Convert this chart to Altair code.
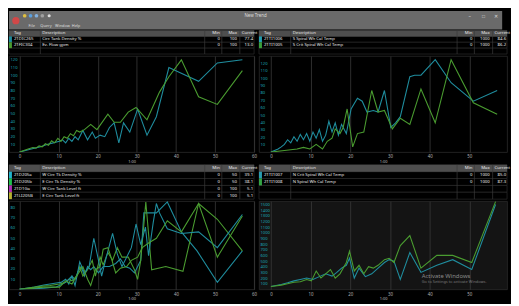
import altair as alt
import pandas as pd

FONT = "Noto Sans"

# ---------------- data: top-left panel ----------------
tl_tags = ["21DIC265", "21FIC304"]
tl_desc = ["Circ Tank Density %", "Ev. Flow gpm"]
tl_min = [0, 0]
tl_max = [100, 100]
tl_cur = ["77.4", "13.0"]
tl_teal_t = [0, 3.0, 5.4, 7.0, 8.6, 10.2, 11.0, 11.8, 12.6, 13.4, 14.2, 15.0, 16.2, 17.4, 18.6, 19.4, 20.6, 21.8,
             23.0, 24.2, 25.4, 26.6, 28.2, 30.2, 32.6, 35.0, 38.2, 45.8, 50.6, 57]
tl_teal_v = [0, 4, 6.8, 10, 12, 14, 16, 12, 18, 14, 20, 16, 28, 16, 26, 18, 22, 20, 32, 38, 12, 38, 26, 56, 22, 46,
             110, 92, 116, 120]
tl_green_t = [0, 2.2, 3.4, 4.2, 5.0, 5.8, 6.6, 7.4, 8.2, 9.0, 9.8, 10.6, 11.4, 12.2, 13.0, 13.8, 14.6, 15.4, 16.6,
              18.2, 19.8, 22.6, 24.2, 25.8, 27.8, 29.8, 32.6, 35.8, 38.2, 41.4, 45.8, 50.6, 57]
tl_green_v = [0, 4, 6, 5.2, 8, 6.8, 10.8, 8.8, 14.8, 12, 18, 14, 20, 18, 24, 21.2, 28, 26, 29.2, 36, 29.2, 49.2,
              38.8, 38.8, 52, 58, 42, 78, 98, 120, 72, 62, 106]

# ---------------- data: top-right panel ----------------
tr_tags = ["21TI1006", "21TI1005"]
tr_desc = ["S Spiral Wh Cal Temp", "S Crit Spiral Wh Cal Temp"]
tr_min = [0, 0]
tr_max = [1000, 1000]
tr_cur = ["84.6", "86.2"]
tr_teal_t = [0, 1.8, 2.6, 3.4, 4.2, 5.0, 5.8, 6.6, 7.4, 8.2, 9.0, 9.8, 10.6, 11.4, 12.2, 13.0, 13.8, 14.6, 15.4,
             16.2, 17.0, 17.8, 19.0, 20.2, 21.8, 23.0, 24.2, 25.8, 27.0, 28.6, 30.2, 31.4, 32.6, 35.0, 36.2, 37.8,
             41.4, 45.4, 51.0, 57.0]
tr_teal_v = [0, 4.2, 7.1, 10.4, 16.7, 12.5, 20.8, 14.6, 23.8, 16.7, 25, 14.6, 27.1, 18.8, 30.4, 14.6, 22.9, 41.7,
             27.1, 39.6, 22.9, 37.5, 25, 58.3, 72.9, 68.8, 54.2, 56.3, 54.2, 83.3, 33.3, 39.6, 47.9, 102, 104, 104,
             125, 93.8, 68.8, 83.3]
tr_green_t = [0, 3.4, 6.6, 8.2, 9.8, 11.4, 13.0, 14.2, 15.4, 16.2, 17.4, 18.2, 19.2, 20.6, 21.8, 23.4, 25.4, 27.0,
              28.6, 30.6, 32.6, 35.0, 37.8, 41.4, 45.4, 51.0, 57.0]
tr_green_v = [0, 2.1, 4.2, 6.3, 4.2, 10.4, 4.2, 14.6, 18.8, 31.3, 25, 33.3, 58.3, 7.1, 25, 27.1, 83.3, 54.2, 56.3,
              31.3, 45.8, 37.5, 85.4, 39.6, 125, 66.7, 51.3]

# ---------------- data: bottom-left panel ----------------
bl_tags = ["21D205a", "21D205b", "21D1Ga", "21LI205B"]
bl_desc = ["W Circ Tk Density %", "E Circ Tk Density %", "W Circ Tank Level ft", "E Circ Tank Level ft"]
bl_min = [0, 0, 0, 0]
bl_max = [50, 50, 100, 100]
bl_cur = ["39.1", "38.1", "5.1", "5.1"]
bl_cyan_t = [0, 3.8, 6.2, 7.8, 9.4, 10.6, 11.8, 12.6, 13.4, 14.2, 15.0, 15.8, 16.6, 17.4, 18.2, 19.0, 20.2, 21.4,
             23.0, 24.6, 25.8, 27.0, 28.2, 29.4, 31.0, 31.8, 35.0, 37.8, 41.4, 45.4, 50.6, 57]
bl_cyan_v = [0, 2.2, 4.3, 5.2, 6.2, 6.8, 9.8, 5.2, 12.9, 9.8, 17.5, 22.2, 12.9, 22.2, 19.1, 22.2, 16, 22.2, 22.2,
             25.2, 29.8, 22.2, 20.6, 16, 28.3, 74.5, 74.5, 85.2, 56, 37.5, 6.8, 37.5]
bl_green_t = [0, 5.4, 7.8, 10.2, 11.8, 12.6, 13.4, 14.6, 15.4, 16.2, 17.4, 18.6, 19.4, 20.6, 21.4, 22.6, 23.8, 25.0,
              26.2, 27.8, 29.4, 30.2, 31.0, 32.3, 33.8, 37.4, 41.8, 45.8, 50.6, 57]
bl_green_v = [0, 3.1, 3.7, 5.2, 6.8, 9.8, 8.3, 12.9, 22.2, 12.9, 19.1, 28.3, 12.9, 31.4, 23.7, 36, 28.3, 40.6, 31.4,
              31.4, 19.1, 9.8, 28.3, 85.2, 19.1, 22.2, 17.5, 83.7, 68.3, 37.5]
bl_mag_t = [0, 6.2, 9.4, 11.8, 13.4, 14.2, 15.4, 16.6, 17.8, 19.0, 20.2, 21.0, 22.2, 23.8, 25.0, 26.2, 27.4, 28.6,
            29.8, 31.0, 32.2, 33.0, 34.2, 35.0, 35.8, 37.8, 41.4, 45.8, 50.6, 57]
bl_mag_v = [0, 1.2, 2.2, 6.8, 12.9, 3.7, 26.8, 16, 22.2, 49.8, 28.3, 12.9, 31.4, 54.5, 34.5, 22.2, 31.4, 40.6, 63.7,
            43.7, 60.6, 32.9, 65.2, 83.7, 74.5, 59.1, 54.5, 56, 40.6, 72.9]
bl_yel_t = [0, 6.2, 10.2, 11.8, 13.4, 14.6, 16.2, 17.4, 18.2, 19.4, 20.6, 21.4, 22.6, 23.4, 24.6, 25.8, 27.4, 28.6,
            30.2, 31.4, 33.0, 35.0, 37.8, 41.4, 45.8, 50.6, 57]
bl_yel_v = [0, 2.2, 2.2, 8.3, 5.2, 12.9, 22.2, 9.8, 3.7, 19.1, 22.2, 39.1, 40.6, 31.4, 16, 20.6, 22.2, 28.3, 31.4,
            40.6, 45.2, 49.8, 66.8, 56, 83.7, 31.4, 71.4]

# ---------------- data: bottom-right panel ----------------
br_tags = ["21TI1007", "21TI1008"]
br_desc = ["N Crit Spiral Wh Cal Temp", "N Spiral Wh Cal Temp"]
br_min = [0, 0]
br_max = [1000, 1000]
br_cur = ["85.0", "87.3"]
br_teal_t = [0, 2.6, 4.2, 5.8, 7.4, 9.0, 10.6, 12.2, 13.8, 15.4, 16.6, 17.8, 19.0, 19.8, 21.0, 22.2, 23.8, 25.4,
             27.0, 28.6, 29.8, 31.0, 32.6, 35.0, 37.8, 41.8, 45.8, 50.6, 56.6]
br_teal_v = [50, 85, 115, 150, 175, 200, 175, 225, 275, 235, 300, 375, 425, 550, 200, 375, 225, 275, 375, 475, 525,
             500, 175, 650, 300, 425, 525, 350, 1500]
br_green_t = [0, 2.6, 4.2, 5.8, 7.4, 9.0, 10.2, 11.4, 12.6, 13.8, 15.0, 16.2, 17.4, 19.0, 19.8, 21.0, 22.2, 23.4,
              24.6, 25.8, 27.0, 28.6, 29.8, 31.0, 32.6, 35.0, 37.8, 41.8, 45.8, 50.6, 56.6]
br_green_v = [50, 75, 100, 125, 135, 175, 150, 325, 200, 275, 350, 200, 275, 475, 675, 325, 425, 275, 400, 375, 425,
              525, 550, 475, 775, 950, 375, 600, 600, 475, 1550]

x_ticks = [0, 10, 20, 30, 40, 50, 60]
menu_items = ["File", "Query", "Window", "Help"]
header_labels = ["Tag", "Description", "Min", "Max", "Current"]
watermark = ["Activate Windows", "Go to Settings to activate Windows."]

# ---------------- layout / style ----------------
TOTAL_W = 503
TITLE_H = 19
LW, RW = 250, 253
GRID = "#3a3a3a"
YLAB = "#1aa6b6"


def table(tags, descs, mins, maxs, curs, colors, W, rowh, nrows):
    H = rowh * nrows
    n = len(tags)
    rows = pd.DataFrame({"row": list(range(1, n + 1)), "tag": tags, "desc": descs,
                         "mn": [str(m) for m in mins], "mx": [str(m) for m in maxs],
                         "cur": curs, "col": colors})
    allrows = pd.DataFrame({"row": list(range(nrows))})
    hdr = pd.DataFrame({"row": [0] * 5, "lab": header_labels})
    yenc = alt.Y("row:O", axis=None,
                 scale=alt.Scale(domain=list(range(nrows)), paddingInner=0, paddingOuter=0))
    s = W / 258.0
    seps = [33 * s, 206 * s, 224 * s, 243 * s]
    bg = alt.Chart(allrows).mark_rect(fill="#000000", stroke="#333333", strokeWidth=0.6).encode(
        y=yenc, x=alt.value(0), x2=alt.value(W))
    hb = alt.Chart(pd.DataFrame({"row": [0]})).mark_rect(fill="#4e4e4e").encode(
        y=yenc, x=alt.value(0), x2=alt.value(W))
    sp = alt.Chart(pd.DataFrame({"p": seps})).mark_rule(color="#3a3a3a", strokeWidth=0.7).encode(
        x=alt.X("p:Q", scale=alt.Scale(domain=[0, W], nice=False, zero=False), axis=None),
        y=alt.value(0), y2=alt.value(H))
    sw = alt.Chart(rows).mark_rect().encode(
        y=yenc, x=alt.value(0), x2=alt.value(3), color=alt.Color("col:N", scale=None))
    fs = 4.4
    txt = dict(baseline="middle", fontSize=fs, font=FONT, color="#e8e8e8")
    layers = [bg, hb, sp, sw]
    hpos = [(5, "left"), (35 * s, "left"), (222 * s, "right"), (240 * s, "right"), (245 * s, "left")]
    for i, (px, al) in enumerate(hpos):
        layers.append(alt.Chart(hdr.iloc[[i]]).mark_text(align=al, **txt).encode(
            x=alt.value(px), y=yenc, text="lab:N"))
    cols = [("tag", 5, "left"), ("desc", 35 * s, "left"), ("mn", 222 * s, "right"),
            ("mx", 240 * s, "right"), ("cur", W - 1, "right")]
    for f, px, al in cols:
        layers.append(alt.Chart(rows).mark_text(align=al, **txt).encode(
            x=alt.value(px), y=yenc, text=f"{f}:N"))
    return alt.layer(*layers).properties(width=W, height=H,
                                         view=alt.ViewBackground(fill="#000000", strokeWidth=0))


def trend(series, colors, ydom, yvals, xdom, W, H, fill="#000000", extra=None):
    frames = []
    for name, (t, v) in series.items():
        frames.append(pd.DataFrame({"t": t, "v": v, "s": name}))
    df = pd.concat(frames)
    lines = alt.Chart(df).mark_line(strokeWidth=1.1, clip=True).encode(
        x=alt.X("t:Q", scale=alt.Scale(domain=xdom, nice=False, zero=False),
                axis=alt.Axis(values=x_ticks, grid=True, gridColor=GRID, gridWidth=0.8, ticks=False,
                              domain=False, labelColor="#b0b0b0", labelFontSize=4.5, labelFont=FONT,
                              labelPadding=2, labelFlush=False, labelOverlap=False, title="1:00",
                              titleFontSize=4, titleColor="#bbbbbb", titleFont=FONT,
                              titleFontWeight="normal", titlePadding=1)),
        y=alt.Y("v:Q", scale=alt.Scale(domain=ydom, nice=False, zero=False),
                axis=alt.Axis(values=yvals, grid=False, ticks=False, domain=False, labelColor=YLAB,
                              labelFontSize=4.2, labelFont=FONT, labelAlign="left", labelPadding=-1,
                              labelOverlap=False, labelFlush=False, format="d", title=None,
                              minExtent=0, maxExtent=0)),
        color=alt.Color("s:N", scale=alt.Scale(domain=list(series.keys()), range=colors), legend=None),
        order=alt.Order("t:Q"),
    )
    layers = [lines]
    if extra is not None:
        layers.extend(extra)
    return alt.layer(*layers).properties(width=W, height=H,
                                         view=alt.ViewBackground(fill=fill, stroke="#2a2a2a", strokeWidth=0.8))


# ---------------- title bar ----------------
tb_df = pd.DataFrame({"x": [TOTAL_W / 2], "y": [5], "t": ["New Trend"]})
menu_df = pd.DataFrame({"x": [20, 32, 47, 64], "y": [15] * 4, "t": menu_items})
win_df = pd.DataFrame({"x": [470, 484, 497], "y": [5, 5, 5], "t": ["–", "□", "✕"]})
xs = alt.Scale(domain=[0, TOTAL_W], nice=False, zero=False)
ys = alt.Scale(domain=[TITLE_H, 0], nice=False, zero=False)
tb_txt = alt.Chart(tb_df).mark_text(fontSize=4.5, font=FONT, color="#dddddd").encode(
    x=alt.X("x:Q", scale=xs, axis=None), y=alt.Y("y:Q", scale=ys, axis=None), text="t:N")
menu_txt = alt.Chart(menu_df).mark_text(fontSize=4, font=FONT, color="#dddddd", align="left").encode(
    x=alt.X("x:Q", scale=xs, axis=None), y=alt.Y("y:Q", scale=ys, axis=None), text="t:N")
win_txt = alt.Chart(win_df).mark_text(fontSize=5, font=FONT, color="#dddddd").encode(
    x=alt.X("x:Q", scale=xs, axis=None), y=alt.Y("y:Q", scale=ys, axis=None), text="t:N")
icons_df = pd.DataFrame({"x": [7, 16, 22, 28, 34, 41], "y": [10, 5, 5, 5, 5, 5],
                         "c": ["#d04848", "#e0c040", "#5aa0e0", "#80b0e0", "#a0a0a0", "#dddddd"],
                         "sz": [55, 14, 14, 14, 14, 10]})
icons = alt.Chart(icons_df).mark_circle(opacity=1).encode(
    x=alt.X("x:Q", scale=xs, axis=None), y=alt.Y("y:Q", scale=ys, axis=None),
    color=alt.Color("c:N", scale=None), size=alt.Size("sz:Q", scale=None))
titlebar = alt.layer(tb_txt, menu_txt, win_txt, icons).properties(
    width=TOTAL_W, height=TITLE_H, view=alt.ViewBackground(fill="#6a6a6a", strokeWidth=0))

# ---------------- panels ----------------
c_tl = ["#1f8d9e", "#4a9c30"]
c_tr = ["#25a0b2", "#3aa03c"]
c_bl = ["#22b4cc", "#20c04c", "#b02cb4", "#b8b232"]
c_br = ["#2a9cb0", "#34a444"]
XL = [-2.7, 60]
XR = [-3.0, 59.5]

tl = alt.vconcat(
    table(tl_tags, tl_desc, tl_min, tl_max, tl_cur, c_tl, LW, 6, 4),
    trend({"a": (tl_teal_t, tl_teal_v), "b": (tl_green_t, tl_green_v)}, c_tl, [0, 125],
          list(range(10, 121, 10)), XL, LW, 98),
    spacing=0)
tr = alt.vconcat(
    table(tr_tags, tr_desc, tr_min, tr_max, tr_cur, c_tr, RW, 6, 4),
    trend({"a": (tr_teal_t, tr_teal_v), "b": (tr_green_t, tr_green_v)}, c_tr, [0, 130],
          list(range(10, 121, 10)), XR, RW, 98),
    spacing=0)
bl = alt.vconcat(
    table(bl_tags, bl_desc, bl_min, bl_max, bl_cur, c_bl, LW, 7, 5),
    trend({"a": (bl_cyan_t, bl_cyan_v), "b": (bl_green_t, bl_green_v), "c": (bl_mag_t, bl_mag_v),
           "d": (bl_yel_t, bl_yel_v)}, c_bl, [0, 86], list(range(10, 81, 10)), XL, LW, 90),
    spacing=0)

wm1 = alt.Chart(pd.DataFrame({"txt": [watermark[0]]})).mark_text(
    align="left", font=FONT, fontSize=6, color="#8a8a8a").encode(
    x=alt.value(166), y=alt.value(76), text="txt:N")
wm2 = alt.Chart(pd.DataFrame({"txt": [watermark[1]]})).mark_text(
    align="left", font=FONT, fontSize=4, color="#7a7a7a").encode(
    x=alt.value(166), y=alt.value(83), text="txt:N")
br = alt.vconcat(
    table(br_tags, br_desc, br_min, br_max, br_cur, c_br, RW, 7, 5),
    trend({"a": (br_teal_t, br_teal_v), "b": (br_green_t, br_green_v)}, c_br, [0, 1560],
          list(range(100, 1501, 100)), XR, RW, 90, fill="#141414", extra=[wm1, wm2]),
    spacing=0)

chart = alt.vconcat(
    titlebar,
    alt.hconcat(tl, tr, spacing=0),
    alt.hconcat(bl, br, spacing=0),
    spacing=0,
).properties(padding=0, background="#000000").configure_concat(spacing=0)

chart.save("out.html", embed_options={"renderer": "svg", "actions": False})
